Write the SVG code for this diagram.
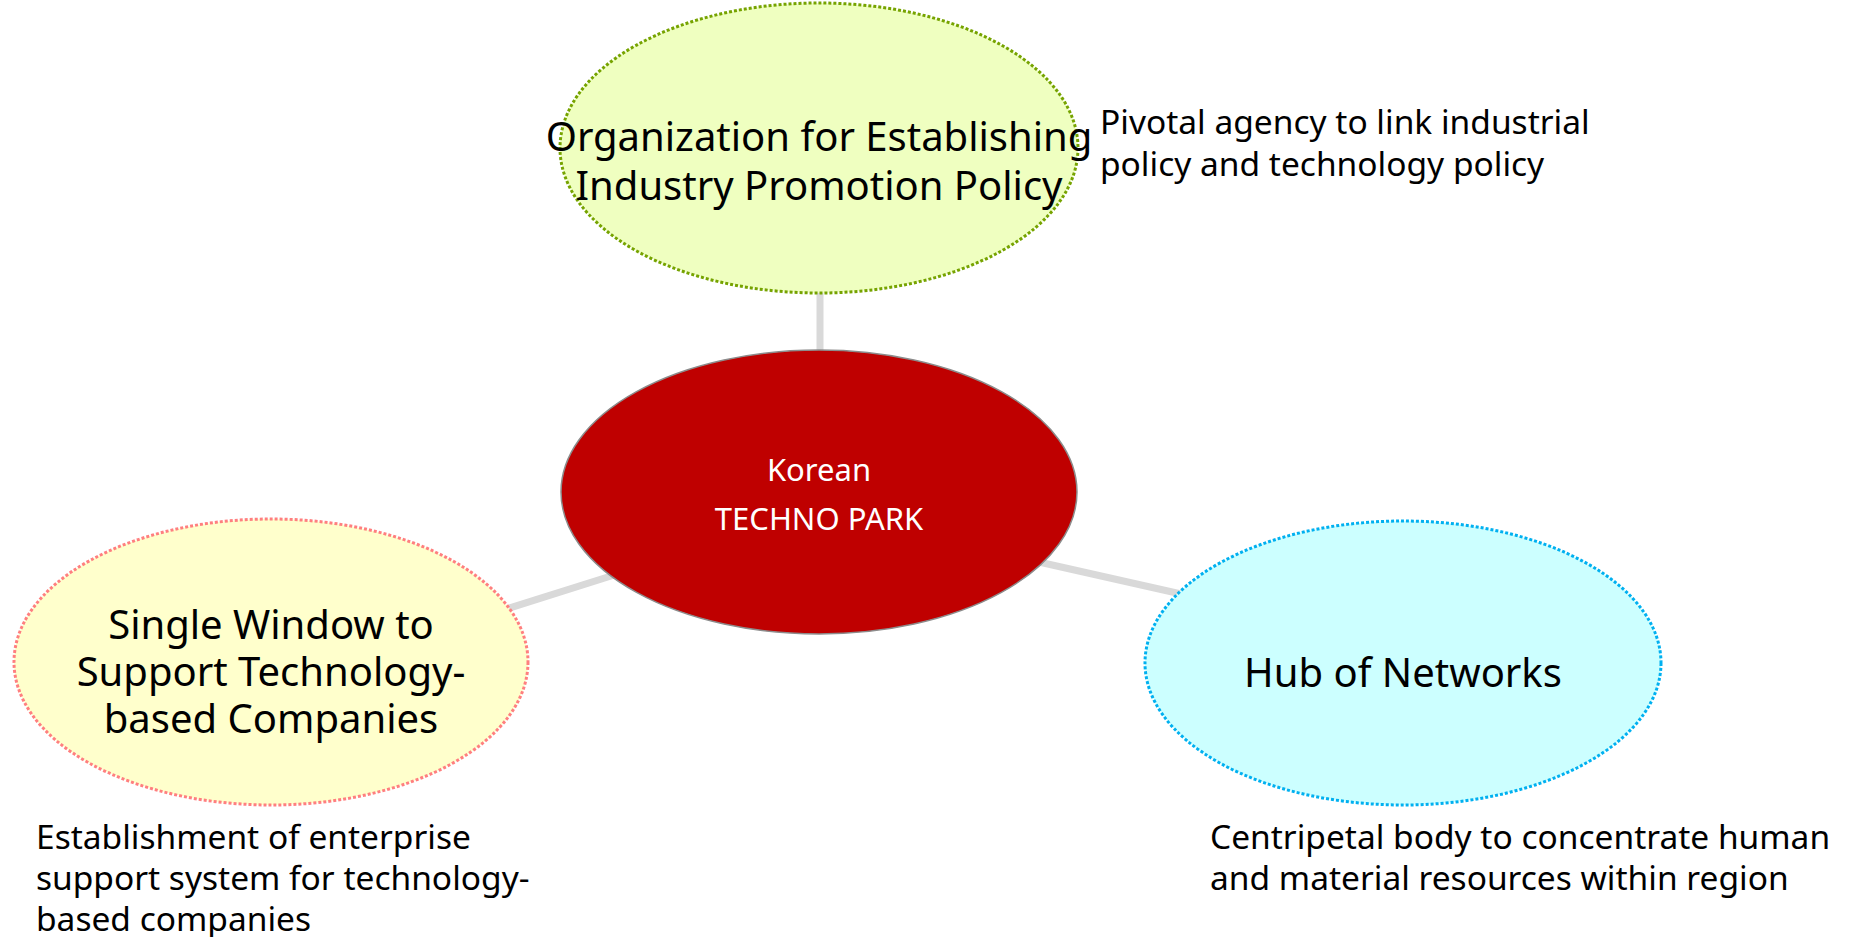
<svg xmlns="http://www.w3.org/2000/svg" width="1858" height="937" viewBox="0 0 1858 937">
<style>
.lbl{font-family:"Noto Sans","Open Sans","DejaVu Sans",sans-serif;fill:#000;text-anchor:middle}
.big{font-size:40px}
.note{font-family:"Noto Sans","Open Sans","DejaVu Sans",sans-serif;fill:#000;font-size:33.5px}
.conn{stroke:#d9d9d9;stroke-width:7;fill:none}
</style>
<rect width="1858" height="937" fill="#fff"/>
<g id="connectors">
<line class="conn" x1="820" y1="290" x2="820" y2="360"/>
<line class="conn" x1="500" y1="611" x2="630" y2="570"/>
<line class="conn" x1="1030" y1="560" x2="1190" y2="596"/>
</g>
<g id="node-top">
<ellipse cx="819" cy="148" rx="259" ry="145" fill="#efffc0" stroke="#76a300" stroke-width="3" stroke-dasharray="3 2"/>
<text class="lbl big" x="819" y="151">Organization for Establishing</text>
<text class="lbl big" x="819" y="200">Industry Promotion Policy</text>
</g>
<g id="node-center">
<ellipse cx="819" cy="492" rx="258" ry="142" fill="#bf0000" stroke="#8c8c8c" stroke-width="1.5"/>
<text class="lbl" x="819" y="481" font-size="31" style="fill:#fff">Korean</text>
<text class="lbl" x="819" y="530" font-size="31" style="fill:#fff">TECHNO PARK</text>
</g>
<g id="node-left">
<ellipse cx="271" cy="662" rx="257" ry="143" fill="#ffffcc" stroke="#ff7f7f" stroke-width="3" stroke-dasharray="3 2"/>
<text class="lbl big" x="271" y="639">Single Window to</text>
<text class="lbl big" x="271" y="686">Support Technology-</text>
<text class="lbl big" x="271" y="733">based Companies</text>
</g>
<g id="node-right">
<ellipse cx="1403" cy="663" rx="258" ry="142" fill="#ccffff" stroke="#00b0f0" stroke-width="3" stroke-dasharray="3 2"/>
<text class="lbl big" x="1403" y="687">Hub of Networks</text>
</g>
<g id="notes">
<text class="note" x="1100" y="134">Pivotal agency to link industrial</text>
<text class="note" x="1100" y="176">policy and technology policy</text>
<text class="note" x="36" y="849">Establishment of enterprise</text>
<text class="note" x="36" y="890">support system for technology-</text>
<text class="note" x="36" y="931">based companies</text>
<text class="note" x="1210" y="849">Centripetal body to concentrate human</text>
<text class="note" x="1210" y="890">and material resources within region</text>
</g>
</svg>
